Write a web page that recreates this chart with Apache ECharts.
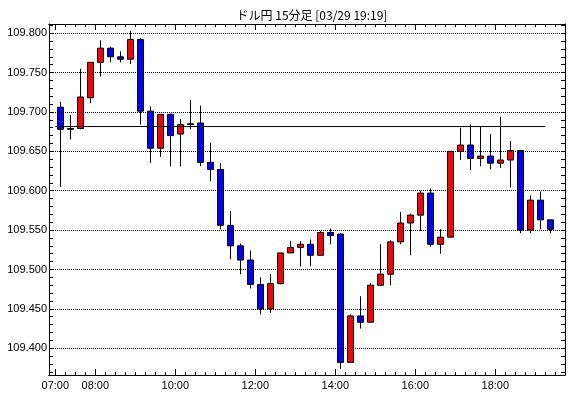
<!DOCTYPE html>
<head>
    <meta charset="utf-8"/>
</head>
<body style="margin:0;background:#fff;">
<div id="main" style="width:570px;height:398px;"></div>
<script src="https://cdn.jsdelivr.net/npm/echarts@6/dist/echarts.min.js"></script>
<script type="text/javascript">
// ドル円 15分足 data
var times = ['07:00','07:15','07:30','07:45','08:00','08:15','08:30','08:45','09:00','09:15',
             '09:30','09:45','10:00','10:15','10:30','10:45','11:00','11:15','11:30','11:45',
             '12:00','12:15','12:30','12:45','13:00','13:15','13:30','13:45','14:00','14:15',
             '14:30','14:45','15:00','15:15','15:30','15:45','16:00','16:15','16:30','16:45',
             '17:00','17:15','17:30','17:45','18:00','18:15','18:30','18:45','19:00','19:15'];
var opens = [109.706,109.679,109.679,109.718,109.763,109.781,109.770,109.767,109.792,109.701,
             109.654,109.697,109.672,109.684,109.686,109.636,109.627,109.556,109.530,109.512,
             109.481,109.450,109.482,109.521,109.528,109.532,109.518,109.547,109.545,109.382,
             109.441,109.433,109.480,109.494,109.535,109.559,109.569,109.597,109.532,109.541,
             109.650,109.658,109.641,109.644,109.635,109.639,109.651,109.550,109.588,109.563];
var closes = [109.678,109.678,109.719,109.763,109.781,109.770,109.767,109.792,109.701,109.654,
              109.697,109.670,109.684,109.685,109.636,109.627,109.556,109.530,109.512,109.481,
              109.450,109.482,109.521,109.528,109.532,109.518,109.547,109.543,109.382,109.441,
              109.433,109.480,109.494,109.535,109.559,109.569,109.597,109.532,109.541,109.650,
              109.658,109.641,109.644,109.635,109.639,109.651,109.550,109.588,109.563,109.551];
var lows = [109.605,109.665,109.678,109.711,109.745,109.763,109.763,109.761,109.684,109.635,
            109.643,109.631,109.631,109.678,109.631,109.612,109.551,109.513,109.494,109.476,
            109.443,109.445,109.481,109.521,109.504,109.504,109.518,109.532,109.374,109.382,
            109.425,109.433,109.479,109.480,109.532,109.518,109.549,109.529,109.520,109.541,
            109.639,109.626,109.631,109.627,109.629,109.604,109.546,109.546,109.551,109.546];
var highs = [109.713,109.696,109.755,109.763,109.791,109.783,109.777,109.803,109.794,109.707,
             109.697,109.698,109.691,109.715,109.708,109.661,109.635,109.574,109.533,109.524,
             109.490,109.494,109.521,109.536,109.536,109.538,109.549,109.552,109.546,109.443,
             109.466,109.483,109.532,109.537,109.573,109.571,109.600,109.603,109.551,109.650,
             109.680,109.684,109.681,109.672,109.694,109.663,109.652,109.594,109.599,109.563];
var refLevel = 109.6815;
var yTickLabels = ['109.400','109.450','109.500','109.550','109.600','109.650','109.700','109.750','109.800'];
var xTickLabels = ['07:00','08:00','10:00','12:00','14:00','16:00','18:00'];

var yMin = 109.366, yMax = 109.8117;
var xMin = -0.63, xMax = 50.97;

var candleData = [];
for (var i = 0; i < times.length; i++) {
    candleData.push([i + 0.5, opens[i], closes[i], lows[i], highs[i]]);
}
var yMajor = yTickLabels.map(function (s) { return parseFloat(s); });
var yMinor = [];
for (var k = 109370; k <= 109810; k += 10) { yMinor.push(k / 1000); }
var xMinor = [];
for (var j = 0; j <= 50; j++) { xMinor.push(j); }
var xMajor = xTickLabels.map(function (t) { return times.indexOf(t); });

var fontAx = 'Liberation Sans';
var blk = '#000';

function xAxisDef(pos, values, len, showLabel) {
    return {
        type: 'value', position: pos, min: xMin, max: xMax,
        axisLine: { show: true, onZero: false, lineStyle: { color: blk, width: 1 } },
        axisTick: { show: true, inside: true, length: len, customValues: values, lineStyle: { color: blk } },
        axisLabel: {
            show: showLabel, customValues: values, color: blk, fontSize: 11, fontFamily: fontAx, margin: 5,
            formatter: function (v) { return times[Math.round(v)] || ''; }
        },
        splitLine: { show: false }
    };
}
function yAxisDef(pos, showLabel) {
    return {
        type: 'value', position: pos, min: yMin, max: yMax, scale: true,
        axisLine: { show: true, onZero: false, lineStyle: { color: blk, width: 1 } },
        axisTick: { show: true, inside: true, length: 4, customValues: yMinor, lineStyle: { color: blk } },
        axisLabel: {
            show: showLabel, customValues: yMajor, color: blk, fontSize: 11, fontFamily: fontAx, margin: 2,
            formatter: function (v) { return v.toFixed(3); }
        },
        splitLine: { show: false }
    };
}

var myChart = echarts.init(document.getElementById('main'));
var options = {
    animation: false,
    backgroundColor: '#fff',
    title: {
        text: 'ドル円 15分足 [03/29 19:19]',
        left: 307, textAlign: 'center', top: 4,
        textStyle: { fontSize: 12, fontWeight: 'normal', color: blk, fontFamily: 'Noto Sans CJK JP' }
    },
    grid: { left: 49, top: 24, width: 516, height: 351 },
    xAxis: [
        xAxisDef('bottom', xMinor, 3, false),
        xAxisDef('bottom', xMajor, 6, true),
        xAxisDef('top', xMinor, 3, false),
        xAxisDef('top', xMajor, 6, false)
    ],
    yAxis: [yAxisDef('left', true), yAxisDef('right', false)],
    series: [{
        type: 'line', data: [], z: 1, silent: true,
        markLine: {
            silent: true, symbol: 'none', label: { show: false },
            lineStyle: { color: blk, type: [1, 1], width: 1 },
            data: yMajor.map(function (v) { return { yAxis: v }; })
        }
    }, {
        type: 'candlestick', z: 2,
        data: candleData,
        encode: { x: 0, y: [1, 2, 3, 4] },
        barWidth: 7,
        itemStyle: {
            color: '#ff0000', color0: '#0000ff',
            borderColor: blk, borderColor0: blk, borderColorDoji: blk, borderWidth: 1
        }
    }, {
        type: 'line', z: 3, silent: true, symbol: 'none',
        data: [[0, refLevel], [times.length - 1, refLevel]],
        lineStyle: { color: blk, width: 1 }
    }]
};
myChart.setOption(options);
</script>
</body>
